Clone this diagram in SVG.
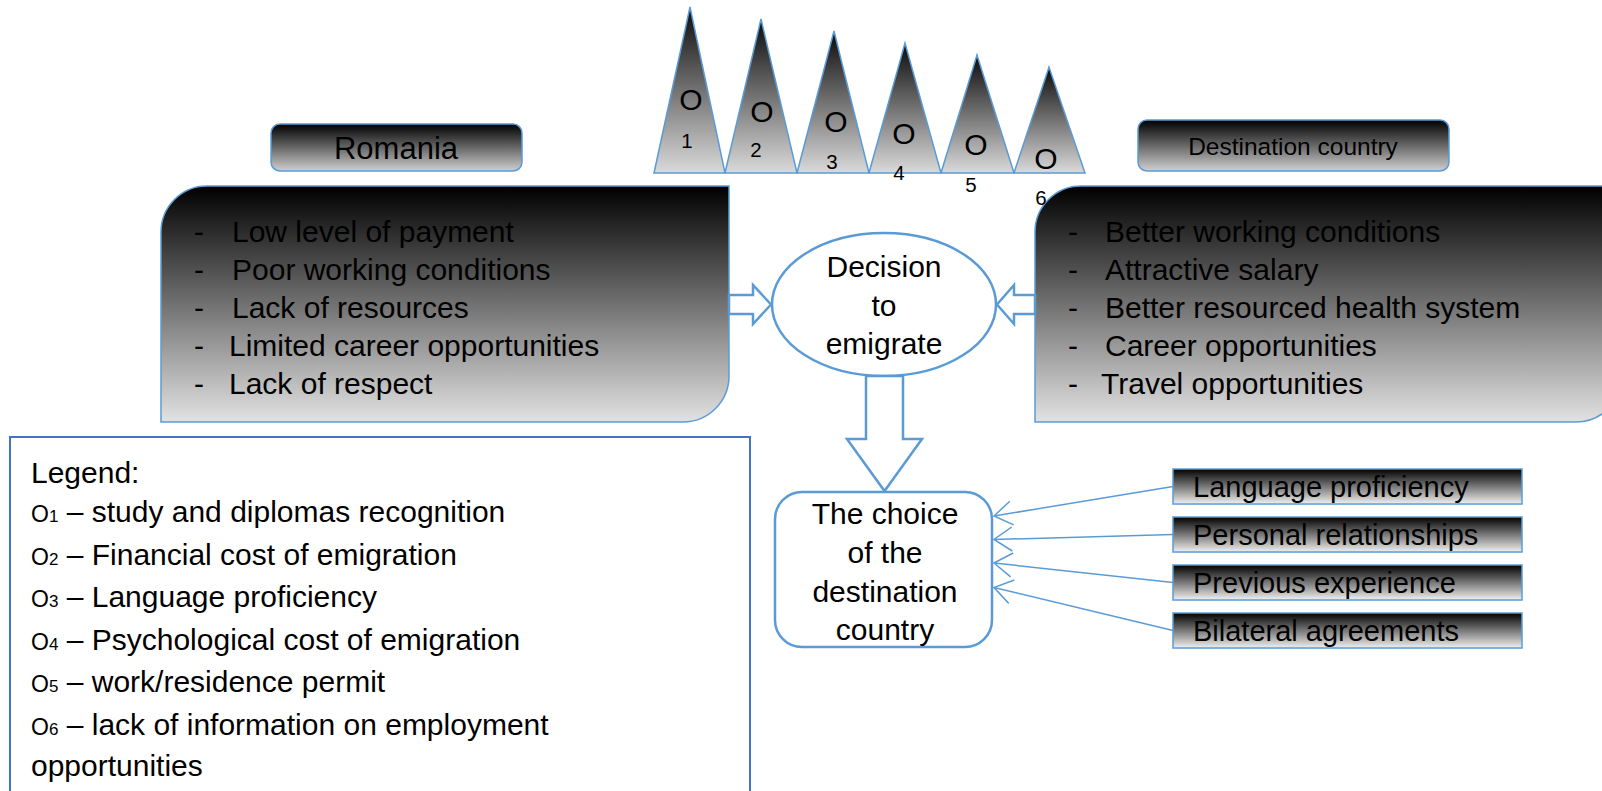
<svg xmlns="http://www.w3.org/2000/svg" width="1602" height="791" viewBox="0 0 1602 791">
<defs>
<linearGradient id="gBig" x1="0" y1="0" x2="0" y2="1"><stop offset="0" stop-color="#000"/><stop offset="1" stop-color="#e2e2e2"/></linearGradient>
<linearGradient id="gTri" x1="0" y1="0" x2="0" y2="1"><stop offset="0" stop-color="#0a0a0a"/><stop offset="1" stop-color="#dadada"/></linearGradient>
<linearGradient id="gHead" x1="0" y1="0" x2="0" y2="1"><stop offset="0" stop-color="#000"/><stop offset="1" stop-color="#cfcfcf"/></linearGradient>
<linearGradient id="gSmall" x1="0" y1="0" x2="0" y2="1"><stop offset="0" stop-color="#000"/><stop offset="1" stop-color="#f0f0f0"/></linearGradient>
<marker id="open" markerUnits="userSpaceOnUse" markerWidth="22" markerHeight="26" refX="20" refY="13" orient="auto" viewBox="0 0 22 26">
<path d="M2,1 L20,13 L2,25" fill="none" stroke="#5B9BD5" stroke-width="1.5"/>
</marker>
<style>
text{font-family:"Liberation Sans",Arial,sans-serif;fill:#000}
.b{stroke:#5B9BD5;stroke-width:1.5}
.w{fill:#fff;stroke:#5B9BD5;stroke-width:2.5}
.l{font-size:30px}
.c{text-anchor:middle}
.con{stroke:#5B9BD5;stroke-width:1.5;fill:none}
.o{font-size:23px}
.s{font-size:17px}
</style>
</defs>
<rect width="1602" height="791" fill="#fff"/>

<g id="romania-box"><path class="b" fill="url(#gBig)" d="M161,422 L161,232 A46,46 0 0 1 207,186 L729,186 L729,376 A46,46 0 0 1 683,422 Z"/>
<g class="l"><text x="194" y="242">-</text><text x="232" y="242">Low level of payment</text>
<text x="194" y="280">-</text><text x="232" y="280">Poor working conditions</text>
<text x="194" y="318">-</text><text x="232" y="318">Lack of resources</text>
<text x="194" y="356">-</text><text x="229" y="356">Limited career opportunities</text>
<text x="194" y="394">-</text><text x="229" y="394">Lack of respect</text></g></g>

<g id="destination-box"><path class="b" fill="url(#gBig)" d="M1035,422 L1035,232 A46,46 0 0 1 1081,186 L1622,186 L1622,376 A46,46 0 0 1 1576,422 Z"/>
<g class="l"><text x="1068" y="242">-</text><text x="1105" y="242">Better working conditions</text>
<text x="1068" y="280">-</text><text x="1105" y="280">Attractive salary</text>
<text x="1068" y="318">-</text><text x="1105" y="318">Better resourced health system</text>
<text x="1068" y="356">-</text><text x="1105" y="356">Career opportunities</text>
<text x="1068" y="394">-</text><text x="1101" y="394">Travel opportunities</text></g></g>

<g id="romania-label"><rect class="b" fill="url(#gHead)" x="271" y="124" width="251" height="47" rx="9"/><text class="c" x="396" y="159" font-size="31">Romania</text></g>
<g id="destination-label"><rect class="b" fill="url(#gHead)" x="1138" y="120" width="311" height="51" rx="9"/><text class="c" x="1293" y="155" font-size="24.5">Destination country</text></g>

<g id="obstacles">
<polygon class="b" fill="url(#gTri)" points="654,173 690,7 725,173"/>
<polygon class="b" fill="url(#gTri)" points="725,173 761,19 797,173"/>
<polygon class="b" fill="url(#gTri)" points="797,173 834,31 869,173"/>
<polygon class="b" fill="url(#gTri)" points="869,173 905,43 941,173"/>
<polygon class="b" fill="url(#gTri)" points="941,173 977,55 1014,173"/>
<polygon class="b" fill="url(#gTri)" points="1014,173 1049,67 1085,173"/>
<g font-size="30" class="c"><text x="691" y="110">O</text><text x="762" y="122">O</text><text x="836" y="132">O</text><text x="904" y="144">O</text><text x="976" y="155">O</text><text x="1046" y="169">O</text></g>
<g font-size="20.5" class="c"><text x="687" y="148">1</text><text x="756" y="157">2</text><text x="832" y="169">3</text><text x="899" y="180">4</text><text x="971" y="192">5</text><text x="1041" y="205">6</text></g>
</g>

<g id="decision"><ellipse class="w" cx="884" cy="304.5" rx="112" ry="71.5"/>
<g class="l c"><text x="884" y="277">Decision</text><text x="884" y="316">to</text><text x="884" y="354">emigrate</text></g></g>

<g id="choice"><rect class="w" x="775" y="492" width="217" height="155" rx="27"/>
<g class="l c"><text x="885" y="524">The choice</text><text x="885" y="563">of the</text><text x="885" y="602">destination</text><text x="885" y="640">country</text></g></g>

<g id="factor-language"><rect class="b" fill="url(#gSmall)" x="1173" y="469" width="349" height="35"/><text font-size="29" x="1193" y="497">Language proficiency</text></g>
<g id="factor-relationships"><rect class="b" fill="url(#gSmall)" x="1173" y="517" width="349" height="35"/><text font-size="29" x="1193" y="545">Personal relationships</text></g>
<g id="factor-experience"><rect class="b" fill="url(#gSmall)" x="1173" y="565" width="349" height="35"/><text font-size="29" x="1193" y="593">Previous experience</text></g>
<g id="factor-agreements"><rect class="b" fill="url(#gSmall)" x="1173" y="613" width="349" height="35"/><text font-size="29" x="1193" y="641">Bilateral agreements</text></g>

<g id="legend"><rect x="10" y="437" width="740" height="380" fill="#fff" stroke="#4472C4" stroke-width="2"/>
<g class="l">
<text x="31" y="483">Legend:</text>
<text x="31" y="522"><tspan class="o">O</tspan><tspan class="s">1</tspan> – study and diplomas recognition</text>
<text x="31" y="565"><tspan class="o">O</tspan><tspan class="s">2</tspan> – Financial cost of emigration</text>
<text x="31" y="607"><tspan class="o">O</tspan><tspan class="s">3</tspan> – Language proficiency</text>
<text x="31" y="650"><tspan class="o">O</tspan><tspan class="s">4</tspan> – Psychological cost of emigration</text>
<text x="31" y="692"><tspan class="o">O</tspan><tspan class="s">5</tspan> – work/residence permit</text>
<text x="31" y="735"><tspan class="o">O</tspan><tspan class="s">6</tspan> – lack of information on employment</text>
<text x="31" y="776">opportunities</text>
</g></g>

<g id="connectors">
<polygon class="w" points="729,295 753,295 753,285 771,304.5 753,324 753,314 729,314"/>
<polygon class="w" points="1035,295 1014,295 1014,285 997,304.5 1014,324 1014,314 1035,314"/>
<polygon class="w" points="866,376 903,376 903,439 922,439 884.5,491 847,439 866,439"/>
<line class="con" x1="1173" y1="486.5" x2="994" y2="516" marker-end="url(#open)"/>
<line class="con" x1="1173" y1="534.5" x2="994" y2="539.5" marker-end="url(#open)"/>
<line class="con" x1="1173" y1="582.5" x2="994" y2="563" marker-end="url(#open)"/>
<line class="con" x1="1173" y1="630.5" x2="994" y2="587.5" marker-end="url(#open)"/>
</g>
</svg>
